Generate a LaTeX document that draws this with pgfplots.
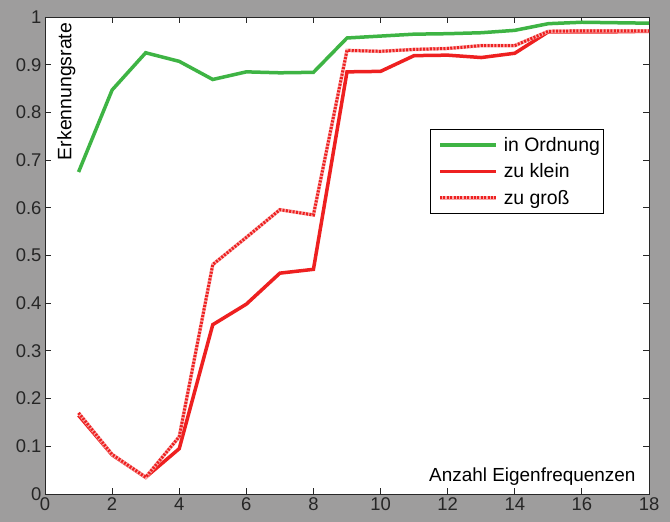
\documentclass[border=0pt]{standalone}
\usepackage{pgfplots}
\pgfplotsset{compat=1.18}
\usepackage{fontspec}
\setmainfont{Liberation Sans}
\definecolor{bggray}{RGB}{158,157,157}
\definecolor{mgreen}{RGB}{62,180,68}
\definecolor{mred}{RGB}{238,32,32}
\definecolor{mpink}{RGB}{248,170,170}
\definecolor{axgray}{RGB}{40,40,40}
\begin{document}
\begin{tikzpicture}
\fill[bggray] (0,0) rectangle (670bp,522bp);
\useasboundingbox (0,0) rectangle (670bp,522bp);
\begin{axis}[
  at={(45bp,28bp)}, anchor=south west,
  scale only axis, width=604bp, height=477bp,
  xmin=0, xmax=18, ymin=0, ymax=1,
  xtick={0,2,...,18}, ytick={0,0.1,...,1},
  axis background/.style={fill=white},
  axis line style={axgray, line width=0.9bp},
  tick style={axgray, line width=0.9bp},
  tick align=inside, major tick length=6bp,
  font=\fontsize{19}{22}\selectfont,
  ticklabel style={font=\fontsize{18.5}{22}\selectfont},
  /pgf/number format/assume math mode=true,
  yticklabel style={/pgf/number format/fixed, /pgf/number format/precision=1, text=black!85},
  xticklabel style={text=black!85},
  xlabel={Anzahl Eigenfrequenzen},
  xlabel style={at={(axis description cs:0.978,0.027)}, anchor=base east, inner sep=0pt},
  legend style={at={(axis cs:11.47,0.766)}, anchor=north west, draw=black, line width=0.8bp,
    fill=white, font=\fontsize{19.5}{22}\selectfont, inner xsep=2bp, inner ysep=6bp,
    row sep=7bp, cells={anchor=west}},
  legend image code/.code={\path (0bp,0bp) (66bp,0bp); \draw[#1] (6bp,0bp) -- (62bp,0bp);},
]
\addplot[mgreen, line width=3.5bp] coordinates {
(1,0.675) (2,0.847) (3,0.925) (4,0.907) (5,0.869) (6,0.885) (7,0.883) (8,0.884)
(9,0.956) (10,0.960) (11,0.964) (12,0.965) (13,0.967) (14,0.972) (15,0.986) (16,0.989) (17,0.988) (18,0.987)};
\addlegendentry{in Ordnung}
\addplot[mred, line width=3.5bp] coordinates {
(1,0.165) (2,0.082) (3,0.035) (4,0.095) (5,0.355) (6,0.398) (7,0.463) (8,0.471)
(9,0.885) (10,0.886) (11,0.919) (12,0.920) (13,0.915) (14,0.924) (15,0.969) (16,0.969) (17,0.969) (18,0.970)};
\addlegendentry{zu klein}
\addplot[mpink, line width=3.5bp, postaction={draw=mred, line width=3bp, dash pattern=on 2bp off 1.4bp}] coordinates {
(1,0.170) (2,0.083) (3,0.035) (4,0.120) (5,0.481) (6,0.538) (7,0.596) (8,0.585)
(9,0.930) (10,0.928) (11,0.932) (12,0.934) (13,0.940) (14,0.940) (15,0.970) (16,0.971) (17,0.971) (18,0.971)};
\addlegendentry{zu groß}
\node[rotate=90, anchor=north east, inner sep=0pt, font=\fontsize{19.5}{22}\selectfont]
  at (axis description cs:0.02,0.988) {Erkennungsrate};
\end{axis}
\end{tikzpicture}
\end{document}
